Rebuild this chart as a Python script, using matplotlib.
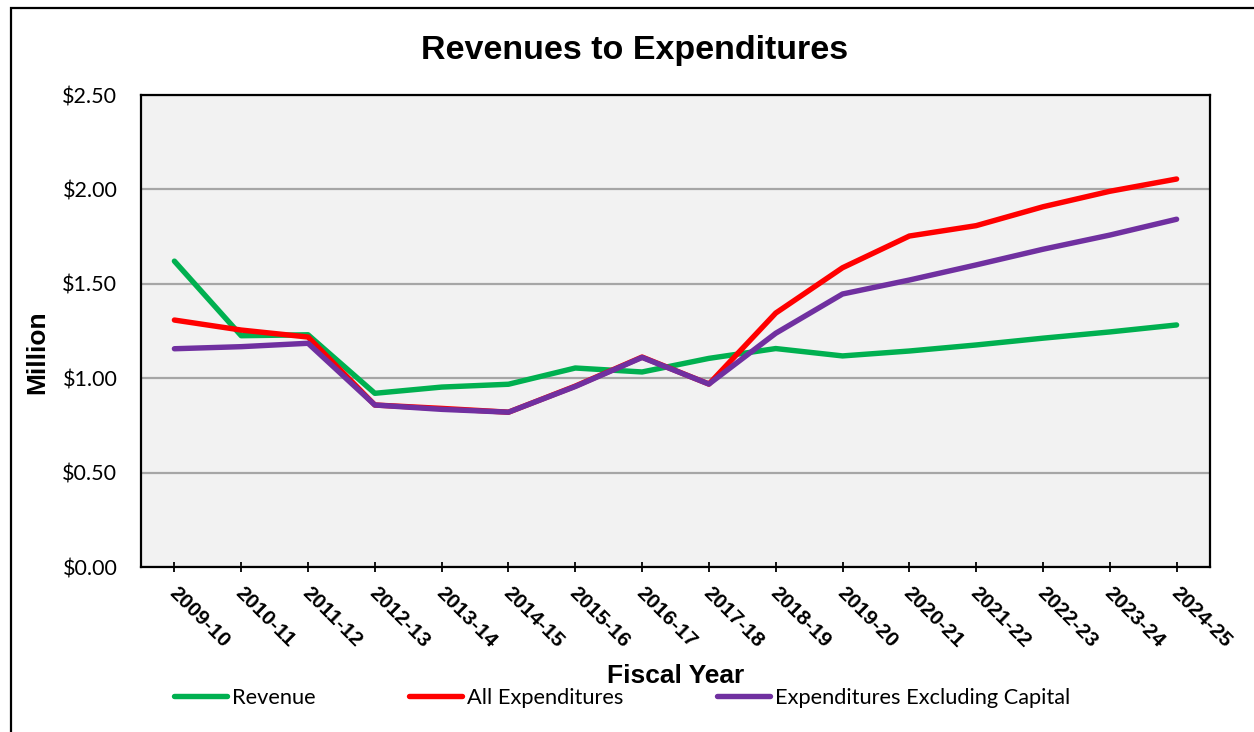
import matplotlib
matplotlib.use("Agg")
import matplotlib.pyplot as plt
import matplotlib.transforms as mtransforms
from matplotlib.patches import Rectangle
from matplotlib.ticker import FuncFormatter

# fiscal years and series values ($ million)
years = ["2009-10", "2010-11", "2011-12", "2012-13", "2013-14", "2014-15",
         "2015-16", "2016-17", "2017-18", "2018-19", "2019-20", "2020-21",
         "2021-22", "2022-23", "2023-24", "2024-25"]
revenue = [1.62, 1.225, 1.23, 0.92, 0.953, 0.968, 1.054, 1.033, 1.105, 1.157,
           1.118, 1.144, 1.176, 1.212, 1.245, 1.282]
all_exp = [1.308, 1.255, 1.218, 0.858, 0.84, 0.82, 0.958, 1.112, 0.969, 1.345,
           1.585, 1.753, 1.808, 1.908, 1.99, 2.055]
exp_ex_capital = [1.156, 1.167, 1.185, 0.858, 0.835, 0.82, 0.956, 1.11, 0.969,
                  1.238, 1.446, 1.52, 1.60, 1.683, 1.758, 1.842]
y_ticks = [0.0, 0.5, 1.0, 1.5, 2.0, 2.5]

W, H = 1254, 732
fig = plt.figure(figsize=(W / 100, H / 100), dpi=100)

# chart area border (runs off the right and bottom edges)
fig.patches.append(Rectangle((11 / W, -0.05), 1.2, 1 - 8 / H + 0.05,
                             transform=fig.transFigure, fill=False,
                             edgecolor="black", linewidth=1.6))

ax = fig.add_axes([141 / W, 1 - 567 / H, (1210 - 141) / W, (567 - 95) / H])
ax.set_facecolor("#F2F2F2")

x = list(range(len(years)))
series = [
    (revenue, "Revenue", "#00B050"),
    (all_exp, "All Expenditures", "#FF0000"),
    (exp_ex_capital, "Expenditures Excluding Capital", "#7030A0"),
]
for vals, label, color in series:
    ax.plot(x, vals, color=color, linewidth=3.9, label=label,
            solid_capstyle="round", solid_joinstyle="round", zorder=3)

ax.set_xlim(-0.5, len(years) - 0.5)
ax.set_ylim(0, 2.5)
ax.set_yticks(y_ticks)
ax.yaxis.set_major_formatter(FuncFormatter(lambda v, p: f"${v:.2f}"))
ax.grid(axis="y", color="#A6A6A6", linewidth=1.6, zorder=1)
ax.set_axisbelow(True)

for s in ax.spines.values():
    s.set_color("black")
    s.set_linewidth(1.6)

ax.tick_params(axis="y", length=0, pad=17, labelsize=15.5)
for lbl in ax.get_yticklabels():
    lbl.set_fontfamily("Lato")

ax.set_xticks(x)
ax.set_xticklabels(years, rotation=-45, ha="left", va="top",
                   rotation_mode="anchor", fontfamily="Liberation Sans",
                   fontweight="bold", fontsize=15)
ax.tick_params(axis="x", direction="inout", length=7, width=1.3, pad=8)
# nudge the slanted labels a little to the right
shift = mtransforms.ScaledTranslation(4 / 100, 0, fig.dpi_scale_trans)
for lbl in ax.get_xticklabels():
    lbl.set_transform(lbl.get_transform() + shift)

fig.text(634.5 / W, 1 - 50 / H, "Revenues to Expenditures", ha="center",
         va="center", fontfamily="Liberation Sans", fontweight="bold",
         fontsize=24.5)
fig.text(675.5 / W, 1 - 676 / H, "Fiscal Year", ha="center", va="center",
         fontfamily="Liberation Sans", fontweight="bold", fontsize=19)
fig.text(37 / W, 1 - 352 / H, "Million", ha="center", va="center",
         rotation=90, fontfamily="Liberation Sans", fontweight="bold",
         fontsize=19)

fig.legend(loc="center left", bbox_to_anchor=(174 / W, 1 - 698 / H), ncol=3,
           frameon=False, prop={"family": "Lato", "size": 15.7},
           handlelength=2.45, handletextpad=0.22, columnspacing=4.27,
           borderpad=0, borderaxespad=0)

fig.savefig("out.png", dpi=100)
